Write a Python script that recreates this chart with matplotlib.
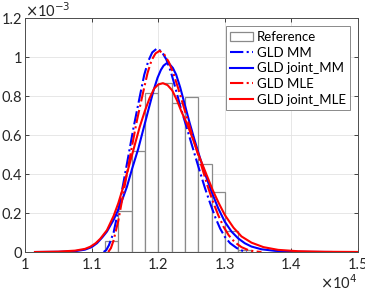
import matplotlib
matplotlib.use('Agg')
import matplotlib.pyplot as plt
from matplotlib.patches import Patch
from matplotlib.lines import Line2D
from matplotlib.ticker import FuncFormatter

plt.rcParams['font.family'] = ['Lato', 'DejaVu Sans']

# histogram of the reference data (bin edges, density in 1e-3)
bin_edges = [11200, 11400, 11600, 11800, 12000, 12200, 12400, 12600, 12800, 13000, 13200, 13400]
ref_density = [0.057, 0.21, 0.52, 0.814, 0.866, 0.763, 0.794, 0.451, 0.31, 0.11, 0.012]

# fitted pdfs (x, density in 1e-3)
mm_x = [11180, 11220, 11260, 11330, 11410, 11480, 11550, 11630, 11730, 11790, 11850, 11910,
        11980, 12050, 12120, 12190, 12260, 12330, 12400, 12470, 12540, 12610, 12700, 12780,
        12860, 12930, 13000, 13080, 13180, 13260, 13330]
mm_y = [0, 0.01, 0.035, 0.10, 0.23, 0.36, 0.49, 0.64, 0.81, 0.91, 0.98, 1.025,
        1.045, 1.03, 0.99, 0.925, 0.84, 0.75, 0.67, 0.59, 0.51, 0.43, 0.33, 0.25,
        0.175, 0.12, 0.078, 0.045, 0.02, 0.007, 0]

jmm_x = [10150, 10500, 10750, 10900, 11000, 11080, 11160, 11230, 11330, 11430, 11530, 11610,
         11700, 11780, 11860, 11930, 11990, 12040, 12080, 12125, 12170, 12220, 12270, 12330,
         12400, 12470, 12550, 12630, 12710, 12800, 12900, 13000, 13100, 13200, 13300, 13400,
         13550, 13750, 14000, 14300, 14600]
jmm_y = [0, 0.001, 0.004, 0.012, 0.025, 0.045, 0.075, 0.105, 0.165, 0.24, 0.335, 0.43,
         0.53, 0.635, 0.74, 0.83, 0.895, 0.935, 0.957, 0.969, 0.965, 0.945, 0.91, 0.845,
         0.755, 0.665, 0.57, 0.48, 0.395, 0.31, 0.225, 0.155, 0.105, 0.07, 0.045, 0.028,
         0.014, 0.006, 0.002, 0.0005, 0]

mle_x = [11250, 11290, 11330, 11400, 11470, 11540, 11610, 11680, 11770, 11840, 11900, 11960,
         12020, 12090, 12160, 12230, 12300, 12370, 12440, 12510, 12580, 12660, 12740, 12820,
         12900, 12980, 13060, 13150, 13250, 13350, 13450, 13550]
mle_y = [0, 0.02, 0.06, 0.16, 0.29, 0.42, 0.55, 0.675, 0.815, 0.92, 0.985, 1.02,
         1.033, 1.015, 0.975, 0.915, 0.84, 0.76, 0.68, 0.6, 0.52, 0.43, 0.34, 0.26,
         0.19, 0.13, 0.085, 0.05, 0.025, 0.01, 0.003, 0]

jmle_x = [10150, 10500, 10750, 10900, 10980, 11060, 11130, 11230, 11330, 11400, 11480, 11560,
          11640, 11720, 11800, 11870, 11940, 12000, 12070, 12140, 12210, 12280, 12350, 12430,
          12520, 12610, 12710, 12815, 12910, 13000, 13130, 13250, 13400, 13580, 13800, 14100,
          14500, 15000]
jmle_y = [0, 0.002, 0.007, 0.016, 0.027, 0.045, 0.068, 0.112, 0.185, 0.25, 0.34, 0.44,
          0.54, 0.64, 0.725, 0.79, 0.84, 0.86, 0.867, 0.857, 0.83, 0.78, 0.72, 0.66,
          0.58, 0.495, 0.41, 0.32, 0.25, 0.19, 0.125, 0.08, 0.048, 0.025, 0.011, 0.004,
          0.0012, 0.0002]

fig = plt.figure(figsize=(3.65, 2.91), dpi=100)
ax = fig.add_axes([0.0685, 0.134, 0.9125, 0.803])

widths = [b - a for a, b in zip(bin_edges[:-1], bin_edges[1:])]
ax.bar(bin_edges[:-1], ref_density, width=widths, align='edge',
       facecolor='white', edgecolor='#8a8a8a', linewidth=0.9, zorder=2)

ax.plot(mm_x, mm_y, color='blue', ls='-.', lw=1.5, zorder=3)
ax.plot(jmm_x, jmm_y, color='blue', ls='-', lw=1.5, zorder=3)
ax.plot(mle_x, mle_y, color='red', ls='-.', lw=1.5, zorder=3)
ax.plot(jmle_x, jmle_y, color='red', ls='-', lw=1.5, zorder=3)

ax.set_xlim(10000, 15000)
ax.set_ylim(0, 1.2)
ax.set_xticks([10000, 11000, 12000, 13000, 14000, 15000])
ax.set_yticks([0, 0.2, 0.4, 0.6, 0.8, 1.0, 1.2])
ax.xaxis.set_major_formatter(FuncFormatter(lambda v, p: f'{v / 1e4:g}'))
ax.yaxis.set_major_formatter(FuncFormatter(lambda v, p: f'{v:g}'))
ax.tick_params(direction='in', length=3, width=0.6, labelsize=10.5,
               colors='#262626', pad=2, top=True, right=True)
ax.tick_params(axis='x', pad=4)
ax.grid(True, color='#e3e3e3', linewidth=0.6, zorder=0)
ax.set_axisbelow(True)
for s in ax.spines.values():
    s.set_color('#4d4d4d')
    s.set_linewidth(0.7)

fig.text(0.0685, 0.965, r'$\times$10$^{-3}$', fontsize=10.5, color='#262626',
         ha='left', va='center')
fig.text(0.978, 0.03, r'$\times$10$^{4}$', fontsize=10.5, color='#262626',
         ha='right', va='center')

handles = [Patch(facecolor='white', edgecolor='#8a8a8a', linewidth=0.9),
           Line2D([], [], color='blue', ls='-.', lw=1.5),
           Line2D([], [], color='blue', ls='-', lw=1.5),
           Line2D([], [], color='red', ls='-.', lw=1.5),
           Line2D([], [], color='red', ls='-', lw=1.5)]
labels = ['Reference', 'GLD MM', 'GLD joint_MM', 'GLD MLE', 'GLD joint_MLE']
leg = ax.legend(handles, labels, loc='upper right', fontsize=9.5, fancybox=False,
                framealpha=1, edgecolor='#8a8a8a', borderpad=0.35, labelspacing=0.28,
                handlelength=1.7, handletextpad=0.3, borderaxespad=0.6)
leg.get_frame().set_linewidth(0.7)

fig.savefig('out.png', dpi=100)
